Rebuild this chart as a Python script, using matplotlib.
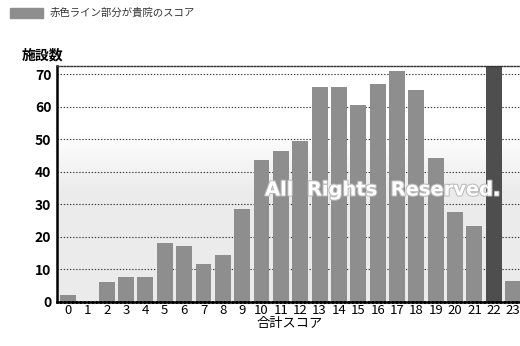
import numpy as np
import matplotlib.pyplot as plt
import matplotlib.patheffects as pe
from matplotlib.patches import Rectangle

plt.rcParams['font.family'] = ['Noto Sans CJK JP', 'DejaVu Sans']

# score distribution: number of facilities per total score
scores = list(range(24))
counts = [2, 0, 6, 7.6, 7.6, 18, 17, 11.7, 14.4, 28.6,
          43.6, 46.4, 49.6, 66, 66, 60.6, 67, 71, 65, 44.3,
          27.6, 23.4, 80, 6.3]
own_score = 22

legend_text = '赤色ライン部分が貴院のスコア'
ylabel = '施設数'
xlabel = '合計スコア'
yticks = [0, 10, 20, 30, 40, 50, 60, 70]

fig = plt.figure(figsize=(5.2, 3.46), dpi=100)
ax = fig.add_axes([0.1096, 0.128, 0.933, 0.681])

# light grey haze in the lower part of the plot area
yy = np.linspace(72.5, 0, 256)
alpha = np.clip((52 - yy) / 18, 0, 1) * 0.85
haze = np.zeros((256, 1, 4))
haze[..., :3] = 0.91
haze[:, 0, 3] = alpha
ax.imshow(haze, extent=[-0.57, 24.5, 0, 72.5], aspect='auto', zorder=0)

colors = ['#4e4e4e' if s == own_score else '#8e8e8e' for s in scores]
ax.bar(scores, counts, width=0.82, color=colors, zorder=2)

ax.set_xlim(-0.57, 24.5)
ax.set_ylim(0, 72.5)
ax.set_yticks(yticks)
ax.set_xticks(scores)
ax.tick_params(axis='y', length=0, labelsize=10, pad=4)
ax.tick_params(axis='x', length=0, labelsize=9.5, pad=2)
for lab in ax.get_yticklabels():
    lab.set_fontweight('bold')

ax.yaxis.grid(True, linestyle=(0, (1.2, 1.6)), color='#333333', linewidth=0.8, zorder=1)
ax.set_axisbelow(True)
ax.spines['right'].set_visible(False)
ax.spines['left'].set_linewidth(1.8)
ax.spines['bottom'].set_linewidth(1.8)
ax.spines['bottom'].set_linestyle((0, (1, 0.6)))
ax.spines['top'].set_linewidth(1.0)
ax.spines['top'].set_linestyle((0, (1.2, 1.2)))
ax.spines['top'].set_color('#333333')

fig.text(0.042, 0.82, ylabel, fontsize=10, fontweight='bold', va='bottom', ha='left')
fig.text(290 / 520, 1 - 323 / 346, xlabel, fontsize=9.5, ha='center', va='center')

# legend swatch and caption
fig.patches.append(Rectangle((10 / 520, 1 - 18 / 346), 33 / 520, 10 / 346,
                             transform=fig.transFigure, color='#8e8e8e'))
fig.text(50 / 520, 1 - 13 / 346, legend_text, fontsize=7.5, va='center', ha='left',
         color='#333333')

# copyright watermark
fig.text(265 / 520, 1 - 190 / 346, 'All  Rights  Reserved.', fontsize=14,
         family='DejaVu Sans', fontweight='bold', color='white', va='center',
         ha='left', zorder=5,
         path_effects=[pe.withStroke(linewidth=1.5, foreground='#bbbbbb')])

fig.savefig('out.png', dpi=100)
